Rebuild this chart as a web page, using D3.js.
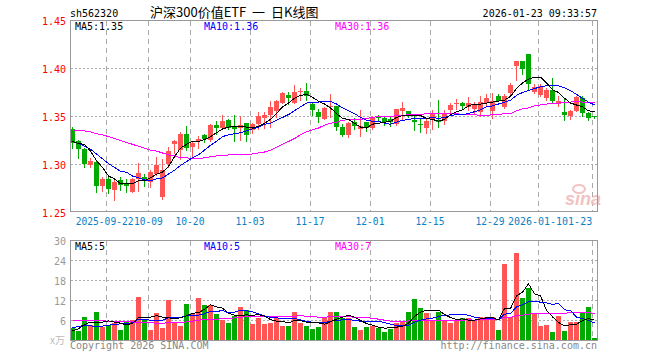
<!DOCTYPE html>
<html>
<head>
<meta charset="utf-8">
<script src="https://d3js.org/d3.v7.min.js"></script>
<style>
body { margin: 0; background: #fff; }
text { font-family: "DejaVu Sans Mono", monospace; font-size: 10px; }
</style>
</head>
<body>
<div id="chart"></div>
<script>
var dates = ["2025-09-12","2025-09-15","2025-09-16","2025-09-17","2025-09-18","2025-09-19",
    "2025-09-22","2025-09-23","2025-09-24","2025-09-25","2025-09-26","2025-09-29","2025-09-30",
    "2025-10-09","2025-10-10","2025-10-13","2025-10-14","2025-10-15","2025-10-16","2025-10-17",
    "2025-10-20","2025-10-21","2025-10-22","2025-10-23","2025-10-24","2025-10-27","2025-10-28","2025-10-29","2025-10-30","2025-10-31",
    "2025-11-03","2025-11-04","2025-11-05","2025-11-06","2025-11-07","2025-11-10","2025-11-11","2025-11-12","2025-11-13","2025-11-14",
    "2025-11-17","2025-11-18","2025-11-19","2025-11-20","2025-11-21","2025-11-24","2025-11-25","2025-11-26","2025-11-27","2025-11-28",
    "2025-12-01","2025-12-02","2025-12-03","2025-12-04","2025-12-05","2025-12-08","2025-12-09","2025-12-10","2025-12-11","2025-12-12",
    "2025-12-15","2025-12-16","2025-12-17","2025-12-18","2025-12-19","2025-12-22","2025-12-23","2025-12-24","2025-12-25","2025-12-26",
    "2025-12-29","2025-12-30","2025-12-31",
    "2026-01-05","2026-01-06","2026-01-07","2026-01-08","2026-01-09",
    "2026-01-12","2026-01-13","2026-01-14","2026-01-15","2026-01-16",
    "2026-01-19","2026-01-20","2026-01-21","2026-01-22","2026-01-23"];

var open = [1.337,1.325,1.316,1.299,1.303,1.278,1.285,1.273,1.284,1.281,
    1.271,1.285,1.287,1.282,1.290,1.266,1.300,1.321,1.315,1.332,
    1.318,1.325,1.331,1.326,1.341,1.338,1.346,1.340,1.338,1.343,
    1.336,1.342,1.348,1.352,1.356,1.364,1.372,1.364,1.376,1.377,
    1.363,1.355,1.347,1.360,1.361,1.339,1.331,1.344,1.337,1.344,
    1.338,1.351,1.348,1.347,1.342,1.356,1.356,1.346,1.342,1.338,
    1.346,1.346,1.345,1.357,1.363,1.364,1.360,1.358,1.355,1.364,
    1.356,1.371,1.360,1.374,1.403,1.408,1.415,1.376,1.372,1.369,
    1.378,1.363,1.355,1.350,1.356,1.369,1.354,1.350];
var high = [1.339,1.326,1.317,1.307,1.304,1.287,1.287,1.284,1.287,1.285,
    1.286,1.302,1.290,1.294,1.308,1.306,1.318,1.326,1.334,1.340,
    1.324,1.330,1.332,1.342,1.345,1.352,1.347,1.352,1.350,1.343,
    1.343,1.355,1.355,1.366,1.367,1.376,1.376,1.383,1.380,1.385,
    1.364,1.358,1.360,1.373,1.361,1.342,1.344,1.348,1.357,1.344,
    1.350,1.352,1.351,1.349,1.358,1.365,1.356,1.351,1.348,1.347,
    1.357,1.367,1.357,1.364,1.368,1.365,1.370,1.365,1.371,1.373,
    1.374,1.373,1.373,1.385,1.408,1.408,1.415,1.384,1.384,1.380,
    1.390,1.371,1.368,1.357,1.371,1.371,1.355,1.351];
var low = [1.317,1.307,1.297,1.297,1.271,1.272,1.270,1.263,1.273,1.271,
    1.271,1.272,1.278,1.277,1.289,1.264,1.297,1.312,1.306,1.315,
    1.309,1.317,1.323,1.324,1.332,1.337,1.337,1.325,1.326,1.325,
    1.333,1.337,1.338,1.339,1.349,1.364,1.363,1.364,1.367,1.367,
    1.352,1.344,1.347,1.349,1.336,1.330,1.329,1.337,1.330,1.335,
    1.337,1.345,1.341,1.340,1.341,1.347,1.349,1.336,1.334,1.333,
    1.337,1.339,1.342,1.353,1.358,1.359,1.357,1.354,1.351,1.361,
    1.348,1.366,1.359,1.372,1.388,1.394,1.379,1.374,1.371,1.367,
    1.364,1.361,1.346,1.347,1.356,1.350,1.346,1.348];
var close = [1.322,1.316,1.300,1.304,1.278,1.285,1.275,1.282,1.279,1.278,
    1.285,1.291,1.283,1.292,1.299,1.294,1.314,1.324,1.332,1.317,
    1.322,1.327,1.327,1.341,1.338,1.345,1.338,1.337,1.341,1.331,
    1.342,1.350,1.352,1.360,1.366,1.374,1.369,1.375,1.377,1.371,
    1.357,1.349,1.359,1.361,1.339,1.331,1.343,1.340,1.340,1.338,
    1.349,1.348,1.344,1.344,1.358,1.359,1.351,1.344,1.341,1.345,
    1.353,1.344,1.354,1.362,1.364,1.361,1.364,1.362,1.365,1.369,
    1.366,1.366,1.371,1.383,1.408,1.399,1.384,1.381,1.382,1.378,
    1.366,1.366,1.352,1.356,1.370,1.354,1.348,1.349];

// volume, in 万
var volume = [3.8,3.0,7.2,4.8,8.7,4.0,4.8,5.2,3.3,6.0,
    6.3,13.2,6.3,3.3,8.3,3.9,12.3,5.2,4.5,11.0,
    8.0,12.9,10.8,10.8,8.0,6.2,5.4,7.5,10.2,9.3,
    5.1,6.7,5.1,5.4,6.8,4.5,4.5,8.7,5.4,4.5,
    3.6,4.2,6.8,8.7,8.7,6.8,6.8,4.2,3.3,4.2,
    4.5,3.9,2.7,3.5,5.2,6.0,8.7,12.6,9.9,8.4,
    6.0,8.7,6.0,5.2,5.8,6.8,6.8,6.0,7.2,7.2,
    7.2,3.3,23.1,7.2,26.2,12.7,15.7,8.0,4.3,4.8,
    2.7,7.3,3.0,5.7,5.7,8.3,10.2,0.7];

var ma5 = [1.324,1.322,1.321,1.314,1.304,1.297,1.288,1.285,1.280,1.280,
    1.280,1.283,1.283,1.286,1.290,1.292,1.298,1.308,1.317,1.321,
    1.324,1.324,1.326,1.329,1.333,1.337,1.339,1.340,1.340,1.339,
    1.338,1.340,1.343,1.347,1.353,1.360,1.364,1.369,1.372,1.373,
    1.370,1.366,1.363,1.359,1.353,1.348,1.347,1.343,1.339,1.338,
    1.342,1.343,1.344,1.345,1.349,1.351,1.351,1.351,1.351,1.348,
    1.347,1.345,1.347,1.352,1.355,1.357,1.361,1.363,1.363,1.364,
    1.365,1.366,1.367,1.371,1.379,1.385,1.389,1.391,1.391,1.385,
    1.378,1.375,1.369,1.364,1.362,1.360,1.356,1.355];
var ma10 = [1.324,1.322,1.319,1.316,1.311,1.306,1.301,1.297,1.293,1.292,
    1.288,1.286,1.284,1.283,1.285,1.286,1.290,1.294,1.299,1.303,
    1.307,1.310,1.315,1.320,1.324,1.329,1.331,1.332,1.333,1.335,
    1.337,1.339,1.342,1.343,1.346,1.349,1.352,1.356,1.360,1.364,
    1.365,1.365,1.366,1.366,1.363,1.359,1.356,1.353,1.349,1.346,
    1.345,1.345,1.343,1.342,1.344,1.346,1.347,1.348,1.348,1.348,
    1.349,1.348,1.349,1.351,1.352,1.352,1.353,1.355,1.357,1.360,
    1.361,1.363,1.365,1.367,1.372,1.375,1.377,1.379,1.381,1.382,
    1.382,1.382,1.380,1.377,1.373,1.369,1.365,1.362];
var ma30 = [1.336,1.335,1.335,1.334,1.332,1.331,1.329,1.327,1.325,1.323,
    1.321,1.319,1.317,1.315,1.314,1.312,1.310,1.309,1.307,1.307,
    1.306,1.306,1.307,1.308,1.309,1.309,1.310,1.310,1.310,1.310,
    1.311,1.312,1.313,1.315,1.318,1.321,1.324,1.327,1.331,1.334,
    1.336,1.338,1.341,1.343,1.344,1.346,1.347,1.347,1.347,1.348,
    1.349,1.350,1.350,1.350,1.351,1.351,1.352,1.352,1.352,1.353,
    1.353,1.353,1.353,1.353,1.353,1.352,1.352,1.352,1.351,1.351,
    1.352,1.352,1.353,1.353,1.356,1.358,1.359,1.361,1.362,1.363,
    1.364,1.364,1.365,1.365,1.366,1.365,1.365,1.365];

var vma5 = [2.9,3.5,4.8,5.5,5.5,5.5,5.9,5.5,5.2,4.7,
    5.1,6.8,7.0,7.0,7.5,7.0,6.8,6.6,6.8,7.4,
    8.2,8.3,9.4,10.7,10.1,9.7,8.2,7.6,7.5,7.7,
    7.5,7.8,7.3,6.3,5.8,5.7,5.3,6.0,6.0,5.5,
    5.3,5.3,4.9,5.6,6.4,7.0,7.6,7.0,6.0,5.1,
    4.6,4.0,3.7,3.8,4.0,4.3,5.2,7.2,8.5,9.1,
    9.1,9.1,7.8,6.9,6.3,6.5,6.1,6.1,6.5,6.8,
    6.9,6.2,9.6,9.6,13.4,14.5,17.0,14.0,13.4,9.1,
    7.1,5.4,4.4,4.7,4.9,6.0,6.6,6.1];
var vma10 = [3.8,4.2,4.6,4.4,4.2,4.3,4.6,4.8,5.0,5.1,
    5.3,6.4,6.3,6.1,6.1,6.1,6.8,6.8,6.9,7.4,
    7.6,7.6,8.0,8.8,8.7,9.0,8.3,8.5,9.1,8.9,
    8.6,8.0,7.4,6.9,6.8,6.6,6.5,6.6,6.2,5.7,
    5.5,5.3,5.4,5.8,6.0,6.2,6.4,6.0,5.8,5.7,
    5.8,5.8,5.4,4.9,4.5,4.4,4.6,5.5,6.1,6.5,
    6.7,7.2,7.5,7.7,7.7,7.8,7.6,7.0,6.7,6.6,
    6.7,6.2,7.9,8.1,10.1,10.7,11.6,11.8,11.5,11.3,
    10.8,11.2,9.2,9.0,7.0,6.6,6.0,5.3];
var vma30 = [6.0,6.0,6.0,5.9,5.9,5.9,5.8,5.8,5.7,5.6,
    5.6,5.4,5.3,5.3,5.2,5.2,5.3,5.3,5.4,5.6,
    5.8,6.1,6.3,6.3,6.4,6.5,6.6,6.8,7.0,7.1,
    7.2,7.3,7.2,7.3,7.2,7.2,7.2,7.3,7.4,7.3,
    7.2,7.0,7.0,7.1,7.2,7.3,7.1,7.0,7.0,6.8,
    6.7,6.4,6.1,5.8,5.8,5.7,5.9,6.0,6.0,6.0,
    6.0,6.1,6.1,6.1,6.1,6.1,6.2,6.1,6.2,6.3,
    6.4,6.4,6.9,6.9,7.5,7.6,7.9,8.1,8.1,8.1,
    8.1,8.2,8.2,8.3,8.3,8.4,8.4,8.0];

var tickDates = ["2025-09-22","2025-10-09","2025-10-20","2025-11-03","2025-11-17",
    "2025-12-01","2025-12-15","2025-12-29","2026-01-12","2026-01-23"];
var tickLabels = ["2025-09-22","10-09","10-20","11-03","11-17",
    "12-01","12-15","12-29","2026-01-12","01-23"];
var priceTicks = [1.45, 1.40, 1.35, 1.30, 1.25];
var volTicks = [30, 24, 18, 12, 6];

function init(){
    var w = 660;
    var h = 360;
    var left = 70;
    var right = 598;
    var red = "#ff5555";
    var green = "#00aa00";

    var svg = d3.select("#chart")
                .append("svg")
                .attr("width", w)
                .attr("height", h);

    var xscale = d3.scaleBand()
                    .domain(dates)
                    .range([left, right]); // 6px per day

    var yprice = d3.scaleLinear()
                    .domain([1.25, 1.45])
                    .range([212.5, 20.5]);

    var yvol = d3.scaleLinear()
                    .domain([0, 30])
                    .range([340.5, 240.5]);

    var mid = function(i) { return xscale(dates[i]) + 2.5; };

    // header
    svg.append("text").attr("x", 70).attr("y", 16.5).text("sh562320");
    var title = svg.append("text").attr("y", 17)
        .style("font-family", "'Noto Sans CJK SC', sans-serif")
        .style("font-size", "13px");
    title.append("tspan").attr("x", 150).text("沪深300价值ETF");
    title.append("tspan").attr("x", 252).text("一");
    title.append("tspan").attr("x", 271).text("日K线图");
    svg.append("text").attr("x", 597).attr("y", 16.5)
        .attr("text-anchor", "end").text("2026-01-23 09:33:57");

    // grid
    svg.selectAll(".hgrid")
        .data(priceTicks.slice(1, 4))
        .enter()
        .append("line")
        .attr("x1", 71).attr("x2", 597)
        .attr("y1", function(d) { return yprice(d); })
        .attr("y2", function(d) { return yprice(d); })
        .attr("stroke", "#aaa")
        .attr("stroke-dasharray", "2,2");

    svg.selectAll(".vgrid")
        .data(volTicks.slice(1))
        .enter()
        .append("line")
        .attr("x1", 71).attr("x2", 597)
        .attr("y1", function(d) { return yvol(d); })
        .attr("y2", function(d) { return yvol(d); })
        .attr("stroke", "#aaa")
        .attr("stroke-dasharray", "2,2");

    [[21, 211], [241, 340]].forEach(function(r) {
        svg.append("g").selectAll("line")
            .data(tickDates)
            .enter()
            .append("line")
            .attr("x1", function(d) { return xscale(d) + 0.5; })
            .attr("x2", function(d) { return xscale(d) + 0.5; })
            .attr("y1", r[0]).attr("y2", r[1])
            .attr("stroke", "#aaa")
            .attr("stroke-dasharray", "5,4");
    });

    // sina watermark
    svg.append("ellipse").attr("cx", 579).attr("cy", 189).attr("rx", 6).attr("ry", 4)
        .attr("fill", "none").attr("stroke", "#f4c4c4").attr("stroke-width", 2);
    svg.append("text").attr("x", 565).attr("y", 205)
        .style("font-family", "'Liberation Sans', sans-serif")
        .style("font-size", "18px").style("font-weight", "bold").style("font-style", "italic")
        .attr("fill", "#f2c2c2").text("sina");

    // candles
    var up = function(i) { return close[i] >= open[i]; };
    var idx = d3.range(dates.length);

    svg.append("g").selectAll("line")
        .data(idx)
        .enter()
        .append("line")
        .attr("x1", mid).attr("x2", mid)
        .attr("y1", function(i) { return Math.round(yprice(high[i])); })
        .attr("y2", function(i) { return Math.round(yprice(low[i])) + 1; })
        .attr("stroke", function(i) { return up(i) ? red : green; });

    svg.append("g").selectAll("rect")
        .data(idx)
        .enter()
        .append("rect")
        .attr("x", function(i) { return xscale(dates[i]); })
        .attr("width", 5)
        .attr("y", function(i) { return Math.round(yprice(Math.max(open[i], close[i]))); })
        .attr("height", function(i) {
            var a = Math.round(yprice(Math.max(open[i], close[i])));
            var b = Math.round(yprice(Math.min(open[i], close[i])));
            return Math.max(1, b - a);
        })
        .attr("fill", function(i) { return up(i) ? red : green; });

    // volume bars
    svg.append("g").selectAll("rect")
        .data(idx)
        .enter()
        .append("rect")
        .attr("x", function(i) { return xscale(dates[i]); })
        .attr("width", 5)
        .attr("y", function(i) { return Math.round(yvol(volume[i])); })
        .attr("height", function(i) { return 341 - Math.round(yvol(volume[i])); })
        .attr("fill", function(i) { return up(i) ? red : green; });

    // moving averages
    var drawLine = function(values, yscale, color) {
        var line = d3.line()
            .x(function(d, i) { return mid(i); })
            .y(function(d) { return yscale(d); });
        svg.append("path")
            .attr("d", line(values))
            .attr("fill", "none")
            .attr("stroke", color)
            .attr("shape-rendering", "crispEdges");
    };
    drawLine(ma30, yprice, "#ff00ff");
    drawLine(ma10, yprice, "#0000ff");
    drawLine(ma5, yprice, "#000000");
    drawLine(vma30, yvol, "#ff00ff");
    drawLine(vma10, yvol, "#0000ff");
    drawLine(vma5, yvol, "#000000");

    // frames
    svg.append("rect").attr("x", 70.5).attr("y", 20.5).attr("width", 527).attr("height", 191)
        .attr("fill", "none").attr("stroke", "#999");
    svg.append("rect").attr("x", 70.5).attr("y", 240.5).attr("width", 527).attr("height", 100)
        .attr("fill", "none").attr("stroke", "#999");

    // axis labels
    svg.selectAll(".plabel")
        .data(priceTicks)
        .enter()
        .append("text")
        .attr("x", 66)
        .attr("y", function(d) { return yprice(d) + 4; })
        .attr("text-anchor", "end")
        .attr("fill", "#ff0000")
        .text(function(d) { return d.toFixed(2); });

    svg.selectAll(".vlabel")
        .data(volTicks)
        .enter()
        .append("text")
        .attr("x", 66)
        .attr("y", function(d) { return yvol(d) + 4; })
        .attr("text-anchor", "end")
        .attr("fill", "#999")
        .text(function(d) { return d; });

    svg.append("text").attr("x", 65).attr("y", 344)
        .attr("text-anchor", "end").attr("fill", "#bbb")
        .style("font-family", "'Noto Sans CJK SC', sans-serif")
        .text("x万");

    // date labels: first one sits left of its tick, last one ends past its tick
    tickDates.forEach(function(d, i) {
        var g = svg.append("g");
        var last = i === tickDates.length - 1;
        var anchor = "middle", x = xscale(d), size = "9.6px";
        if (i === 0) { anchor = "end"; x = xscale(d) + 27.5; }
        if (i === 1) { anchor = "start"; x = xscale(d) - 14; }
        if (i >= tickDates.length - 2) { size = "10px"; }
        if (last) { anchor = "end"; x = xscale(d) + 0.2; }
        var t = g.append("text")
            .attr("x", x)
            .attr("y", 225)
            .attr("text-anchor", anchor)
            .attr("fill", "#0a7fc6")
            .style("font-size", size)
            .text(tickLabels[i]);
        if (last) {
            var bb = t.node().getBBox();
            g.insert("rect", "text")
                .attr("x", bb.x).attr("y", bb.y)
                .attr("width", bb.width).attr("height", bb.height)
                .attr("fill", "#fff");
        }
    });

    // legends
    var legend = function(y, items) {
        items.forEach(function(it) {
            svg.append("text").attr("x", it[0]).attr("y", y)
                .attr("fill", it[2]).text(it[1]);
        });
    };
    legend(29.5, [[75, "MA5:1.35", "#000"], [204, "MA10:1.36", "#0000ff"], [335, "MA30:1.36", "#ff00ff"]]);
    legend(249.5, [[75, "MA5:5", "#000"], [204, "MA10:5", "#0000ff"], [335, "MA30:7", "#ff00ff"]]);

    // footer
    svg.append("text").attr("x", 70).attr("y", 349).attr("fill", "#888")
        .text("Copyright 2026 SINA.COM");
    svg.append("text").attr("x", 597).attr("y", 349).attr("fill", "#888")
        .attr("text-anchor", "end").text("http://finance.sina.com.cn");
}
window.onload = init;
</script>
</body>
</html>
